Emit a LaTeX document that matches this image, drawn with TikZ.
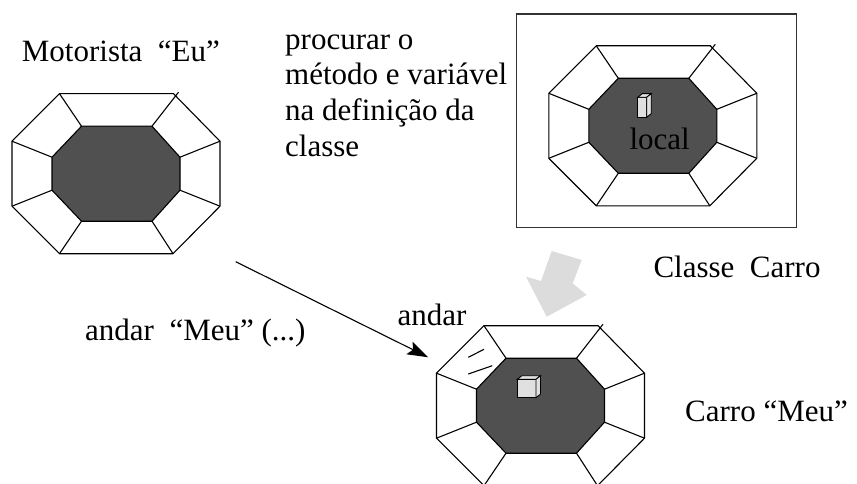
\documentclass[tikz,border=0pt]{standalone}
\usepackage{fontspec}
\setmainfont{Liberation Serif}
\usetikzlibrary{arrows.meta}
\definecolor{core}{HTML}{505050}
\definecolor{cubefill}{HTML}{E0E0E0}
\definecolor{bigarrow}{HTML}{DCDCDC}
\definecolor{boxline}{HTML}{333333}
\tikzset{
  edge/.style={line width=1.1pt, black, line join=miter},
  lbl/.style={font=\fontsize{31}{36}\selectfont, inner sep=0pt, anchor=base west},
  octo/.pic={
    \draw[edge, fill=white] (-56.5,-80) -- (57.5,-80) -- (104,-32.5) -- (104,32.5) -- (57,80) -- (-56.5,80) -- (-104,32.5) -- (-104,-32.5) -- cycle;
    \draw[edge] (-56.5,-80) -- (-34.5,-47.5);
    \draw[edge] (62.5,-81.5) -- (36,-47.5);
    \draw[edge] (104,-32.5) -- (64,-16.5);
    \draw[edge] (104,32.5) -- (64,16.5);
    \draw[edge] (57,80) -- (36,47.5);
    \draw[edge] (-56.5,80) -- (-34.5,47.5);
    \draw[edge] (-104,32.5) -- (-64,16.5);
    \draw[edge] (-104,-32.5) -- (-64,-16.5);
    \draw[edge, fill=core] (-34.5,-47.5) -- (36,-47.5) -- (64,-16.5) -- (64,16.5) -- (36,47.5) -- (-34.5,47.5) -- (-64,16.5) -- (-64,-16.5) -- cycle;
  },
  cube/.style n args={4}{},
}
\newcommand{\mycube}[5]{% x y w h depth
  \draw[line width=0.9pt, fill=cubefill] (#1,#2) rectangle ++(#3,#4);
  \draw[line width=0.9pt, fill=cubefill] (#1,#2) -- ++(#5,-#5*0.8) -- ++(#3,0) -- ++(-#5,#5*0.8) -- cycle;
  \draw[line width=0.9pt, fill=cubefill] (#1+#3,#2) -- ++(#5,-#5*0.8) -- ++(0,#4) -- ++(-#5,#5*0.8) -- cycle;
}
\begin{document}
\begin{tikzpicture}[x=1pt,y=-1pt]
\useasboundingbox (0,0) rectangle (857,484);
\clip (0,0) rectangle (857,484);

% class box
\draw[line width=1.4pt, boxline] (516.7,14) rectangle (796.7,227.3);

% octagons
\pic at (116,173.7) {octo};
\pic at (652.8,125.8) {octo};
\pic at (540.5,405.7) {octo};

% cubes
\mycube{637.7}{97.3}{9}{20}{4.5}
\mycube{517.3}{379.3}{18.7}{18.4}{4.5}

% small marks on instance
\draw[edge] (468.3,357.3) -- (484,349.3);
\draw[edge] (468.3,374) -- (492.3,365.7);

% gray arrow
\fill[bigarrow] (551.7,251) -- (581.7,260) -- (572.7,283.3) -- (586.7,295) -- (546.7,316.7) -- (526,276.7) -- (541,281) -- cycle;

% call arrow
\coordinate (callS) at (235.7,261.7);
\coordinate (callE) at (428.3,357.3);
\draw[line width=1.1pt, -{Stealth[length=21pt,width=14pt,inset=4pt]}] (callS) -- (callE);

% labels
\node[lbl] (motorista) at (21.7,61.7) {Motorista \ “Eu”};
\node[lbl] (p1) at (285,49.5) {procurar o};
\node[lbl] (p2) at (285,85) {método e variável};
\node[lbl] (p3) at (285,120.5) {na definição da};
\node[lbl] (p4) at (285,156.5) {classe};
\node[lbl] (local) at (629.3,149.3) {local};
\node[lbl] (classe) at (653.3,277.3) {Classe \ Carro};
\node[lbl] (andarmeu) at (85,340) {andar \ “Meu” (...)};
\node[lbl] (andar) at (397.3,325) {andar};
\node[lbl] (carro) at (685,421.7) {Carro “Meu”};
\end{tikzpicture}
\end{document}
